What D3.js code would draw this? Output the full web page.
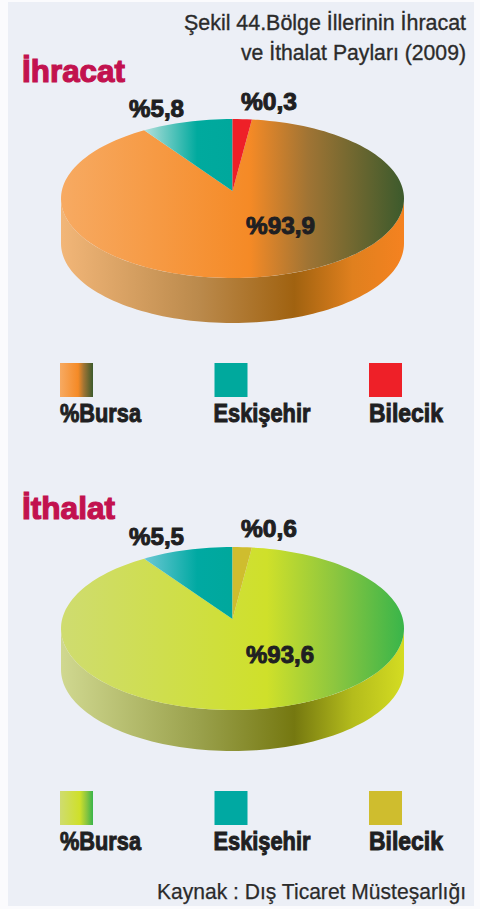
<!DOCTYPE html>
<html>
<head>
    <meta charset="utf-8">
    <title>Bölge İllerinin İhracat ve İthalat Payları</title>
    <style>
        body { margin: 0; padding: 0; background: #fbfbfd; }
        svg { display: block; }
        text { font-family: "Liberation Sans Narrow", "Liberation Sans", Arial, sans-serif; }
        .title { fill: #2b2b2b; font-size: 22px; stroke: #2b2b2b; stroke-width: 0.35px; }
        .source { fill: #2b2b2b; font-size: 22px; stroke: #2b2b2b; stroke-width: 0.25px; }
        .head { fill: #c2124f; font-size: 32px; font-weight: bold; stroke: #c2124f; stroke-width: 1.2px; }
        .value { fill: #1f1f22; font-size: 24px; font-weight: bold; stroke: #1f1f22; stroke-width: 1px; }
        .legend-label { fill: #1f1f22; font-size: 26px; font-weight: bold; stroke: #1f1f22; stroke-width: 1px; }
    </style>
</head>
<body>
    <div id="chart"></div>

    <script src="https://d3js.org/d3.v7.min.js"></script>
    <script>
        const categories = ['Bursa', 'Eskişehir', 'Bilecik'];
        const legendLabels = ['%Bursa', 'Eskişehir', 'Bilecik'];
        const ihracatValues = [93.9, 5.8, 0.3];
        const ithalatValues = [93.6, 5.5, 0.6];
        const titleLines = ['Şekil 44.Bölge İllerinin İhracat', 've İthalat Payları (2009)'];
        const sourceText = 'Kaynak : Dış Ticaret Müsteşarlığı';

        // the printed pie is not to scale, the slices have fixed drawn angles
        const drawnAngle = d3.scaleThreshold().domain([1, 10]).range([6.5, 31, 322.5]);
        const deg = Math.PI / 180;

        const pie = d3.pie().sort(null)
            .value(d => drawnAngle(d))
            .startAngle(6.5 * deg)
            .endAngle(366.5 * deg);

        const fmt = d3.formatLocale({ decimal: ',', thousands: '.', grouping: [3], currency: ['', ''] }).format('.1f');

        const svg = d3.select('#chart').append('svg')
            .attr('width', 480)
            .attr('height', 909);
        const defs = svg.append('defs');

        svg.append('rect')
            .attr('x', 8).attr('y', 2)
            .attr('width', 466).attr('height', 904)
            .attr('fill', '#eceff6');

        function gradient(id, stops) {
            const g = defs.append('linearGradient').attr('id', id);
            stops.forEach(s => g.append('stop').attr('offset', s[0]).attr('stop-color', s[1]));
            return `url(#${id})`;
        }

        function addText(cls, str, x, y, len, anchor) {
            return svg.append('text')
                .attr('class', cls)
                .attr('x', x).attr('y', y)
                .attr('text-anchor', anchor || 'start')
                .attr('textLength', len)
                .attr('lengthAdjust', 'spacingAndGlyphs')
                .text(str);
        }

        function drawPie(cfg) {
            const x = d3.scaleLinear().domain([-1, 1]).range([61, 404]);
            const y = d3.scaleLinear().domain([-1, 1]).range([cfg.top, cfg.bottom]);
            const line = d3.line();
            const rim = (a, dy) => [x(Math.sin(a)), y(-Math.cos(a)) + (dy || 0)];

            // side wall: front half of the rim, dropped by the thickness
            const front = d3.range(90, 270.5, 2).map(a => a * deg);
            svg.append('path')
                .attr('d', line(front.map(a => rim(a)).concat(front.slice().reverse().map(a => rim(a, cfg.depth)))) + 'Z')
                .attr('fill', cfg.side);

            pie(cfg.values).forEach((arc, i) => {
                const n = Math.max(2, Math.ceil((arc.endAngle - arc.startAngle) / (2 * deg)));
                const pts = d3.range(n + 1).map(k => rim(arc.startAngle + (arc.endAngle - arc.startAngle) * k / n));
                svg.append('path')
                    .attr('d', line([[x(0), cfg.apex]].concat(pts)) + 'Z')
                    .attr('fill', cfg.fills[i]);
            });

            cfg.labels.forEach((l, i) => {
                addText('value', '%' + fmt(cfg.values[i]), l[0], l[1], l[2]);
            });

            addText('head', cfg.name, 22, cfg.headY, cfg.headLen);

            const legendX = d3.scalePoint().domain(categories).range([60, 369]);
            categories.forEach((c, i) => {
                svg.append('rect')
                    .attr('x', legendX(c))
                    .attr('y', cfg.legendY)
                    .attr('width', 33).attr('height', 34)
                    .attr('fill', cfg.legendFills[i]);
                addText('legend-label', legendLabels[i], legendX(c) - (i === 1 ? 1 : 0), cfg.legendY + 59, [81, 97, 74][i]);
            });
        }

        titleLines.forEach((t, i) => addText('title', t, 466, [30, 60][i], [282, 225][i], 'end'));

        const ihrTop = gradient('ihrTop', [[0, '#f7aa62'], [0.55, '#f58a26'], [0.72, '#a07434'], [1, '#3c5a2c']]);
        const ithTop = gradient('ithTop', [[0, '#cfdc70'], [0.6, '#cfe02a'], [0.8, '#8cc63f'], [1, '#39b54a']]);

        drawPie({
            name: 'İhracat', headY: 82, headLen: 103,
            values: ihracatValues, top: 119, bottom: 278, depth: 45, apex: 191,
            legendY: 363,
            labels: [[246, 234, 69], [129, 117, 55], [241, 110, 56]],
            fills: [ihrTop, gradient('ihrTeal', [[0, '#b4e0dc'], [0.6, '#00aa9e'], [1, '#00a89c']]), '#ee2028'],
            legendFills: [ihrTop, '#00a99d', '#ee2028'],
            side: gradient('ihrSide', [[0, '#f2b678'], [0.4, '#bb8a4c'], [0.68, '#a06210'], [0.85, '#e0801e'], [1, '#f58220']])
        });

        drawPie({
            name: 'İthalat', headY: 519, headLen: 93,
            values: ithalatValues, top: 547, bottom: 710, depth: 41, apex: 619,
            legendY: 791,
            labels: [[246, 663, 68], [129, 545, 55], [241, 537, 56]],
            fills: [ithTop, gradient('ithTeal', [[0, '#6cc8d4'], [0.6, '#00a9a2'], [1, '#00a89c']]), '#cfbd2e'],
            legendFills: [ithTop, '#00a9a2', '#cfbd2e'],
            side: gradient('ithSide', [[0, '#d0d890'], [0.4, '#9aa14c'], [0.68, '#757810'], [0.85, '#b4bc1c'], [1, '#d4dc22']])
        });

        addText('source', sourceText, 466, 899, 309, 'end');
    </script>
</body>
</html>
